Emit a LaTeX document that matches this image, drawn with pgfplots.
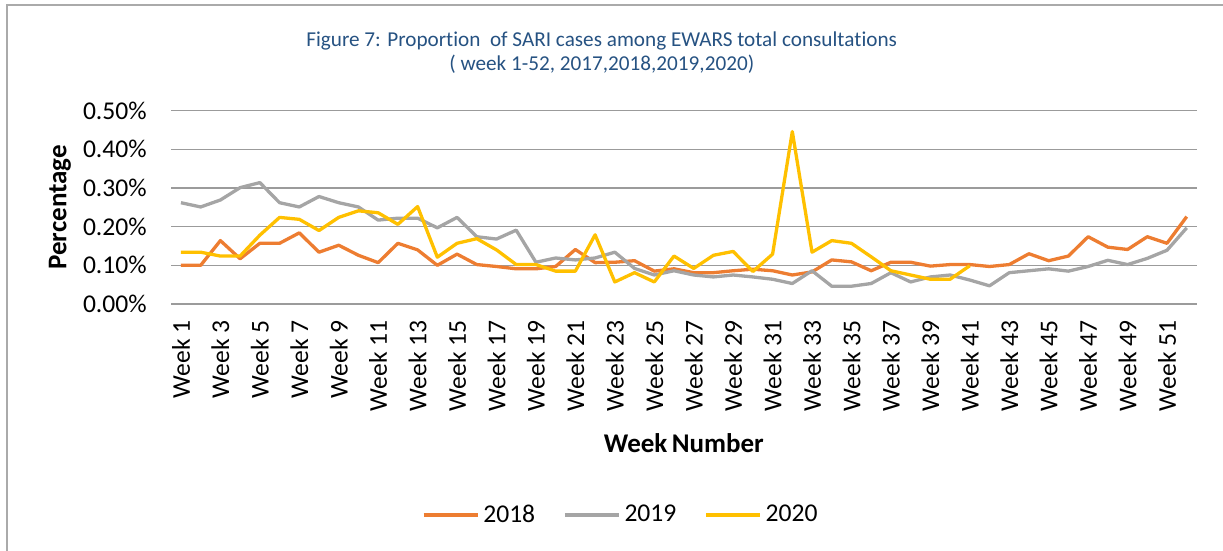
\documentclass[border=0pt]{standalone}
\usepackage{fontspec}
\setmainfont{Carlito}[Ligatures=NoCommon]
\usepackage{pgfplots}
\pgfplotsset{compat=1.18}

\definecolor{c2018}{RGB}{237,125,49}
\definecolor{c2019}{RGB}{165,165,165}
\definecolor{c2020}{RGB}{255,192,0}
\definecolor{gridgray}{RGB}{155,155,155}
\definecolor{titleblue}{RGB}{38,82,130}
\definecolor{framegray}{RGB}{170,170,170}

\begin{document}
\begin{tikzpicture}
\begin{axis}[
    scale only axis, width=512.75pt, height=96.65pt,
    xmin=0.5, xmax=52.5, ymin=0, ymax=0.5,
    clip=false,
    axis line style={draw=none},
    major tick length=0pt,
    ymajorgrids, grid style={gridgray, line width=0.7pt},
    ytick={0,0.1,0.2,0.3,0.4,0.5},
    yticklabels={0.00\%,0.10\%,0.20\%,0.30\%,0.40\%,0.50\%},
    xtick={1,3,5,7,9,11,13,15,17,19,21,23,25,27,29,31,33,35,37,39,41,43,45,47,49,51},
    xticklabels={Week 1,Week 3,Week 5,Week 7,Week 9,Week 11,Week 13,Week 15,Week 17,
      Week 19,Week 21,Week 23,Week 25,Week 27,Week 29,Week 31,Week 33,Week 35,Week 37,
      Week 39,Week 41,Week 43,Week 45,Week 47,Week 49,Week 51},
    tick label style={font=\fontsize{12.8}{14}\selectfont},
    xticklabel style={rotate=90, anchor=east, inner sep=0pt},
    xticklabel shift=8pt,
    yticklabel style={anchor=east, inner sep=0pt},
    yticklabel shift=12pt,
    xlabel={Week\,Number}, ylabel={Percentage},
    label style={font=\fontsize{13.5}{15}\selectfont\bfseries},
    xlabel style={at={(axis description cs:0.5,-0.719)}, anchor=center},
    ylabel style={at={(axis description cs:-0.1083,0.5)}, anchor=center},
    legend columns=3,
    legend style={at={(axis description cs:0.4395,-1.0916)}, anchor=center, draw=none,
      font=\fontsize{12.8}{14}\selectfont, inner sep=0pt,
      /tikz/every even column/.append style={column sep=12pt}},
    legend image code/.code={\draw[#1] (0pt,0pt) -- (27pt,0pt);},
    every axis plot/.append style={line width=1.65pt, line join=round, mark=none},
]
\addplot[c2018] coordinates {
(1,0.100) (2,0.100) (3,0.164) (4,0.117) (5,0.157) (6,0.157) (7,0.184) (8,0.134)
(9,0.152) (10,0.126) (11,0.107) (12,0.157) (13,0.140) (14,0.100) (15,0.129) (16,0.102)
(17,0.097) (18,0.091) (19,0.091) (20,0.097) (21,0.141) (22,0.107) (23,0.108) (24,0.112)
(25,0.085) (26,0.091) (27,0.081) (28,0.081) (29,0.086) (30,0.090) (31,0.086) (32,0.075)
(33,0.083) (34,0.114) (35,0.109) (36,0.086) (37,0.108) (38,0.108) (39,0.098) (40,0.102)
(41,0.102) (42,0.097) (43,0.102) (44,0.130) (45,0.112) (46,0.124) (47,0.174) (48,0.147)
(49,0.141) (50,0.174) (51,0.157) (52,0.226)};
\addlegendentry{2018}
\addplot[c2019] coordinates {
(1,0.262) (2,0.251) (3,0.269) (4,0.301) (5,0.314) (6,0.262) (7,0.251) (8,0.278)
(9,0.262) (10,0.251) (11,0.217) (12,0.222) (13,0.222) (14,0.197) (15,0.224) (16,0.174)
(17,0.168) (18,0.191) (19,0.108) (20,0.119) (21,0.114) (22,0.119) (23,0.134) (24,0.092)
(25,0.075) (26,0.086) (27,0.075) (28,0.070) (29,0.075) (30,0.070) (31,0.064) (32,0.053)
(33,0.086) (34,0.046) (35,0.046) (36,0.053) (37,0.081) (38,0.057) (39,0.070) (40,0.075)
(41,0.062) (42,0.047) (43,0.081) (44,0.086) (45,0.091) (46,0.085) (47,0.097) (48,0.113)
(49,0.102) (50,0.118) (51,0.139) (52,0.197)};
\addlegendentry{2019}
\addplot[c2020] coordinates {
(1,0.134) (2,0.134) (3,0.124) (4,0.124) (5,0.178) (6,0.224) (7,0.219) (8,0.190)
(9,0.224) (10,0.241) (11,0.236) (12,0.206) (13,0.252) (14,0.121) (15,0.157) (16,0.169)
(17,0.140) (18,0.102) (19,0.102) (20,0.085) (21,0.085) (22,0.179) (23,0.057) (24,0.081)
(25,0.057) (26,0.124) (27,0.092) (28,0.126) (29,0.136) (30,0.084) (31,0.129) (32,0.446)
(33,0.134) (34,0.164) (35,0.157) (36,0.122) (37,0.086) (38,0.075) (39,0.064) (40,0.064)
(41,0.099)};
\addlegendentry{2020}
\end{axis}
% chart title (\kern0pt keeps the "ti" letters apart, as in the original)
\node[titleblue, align=center, font=\fontsize{10.6}{12}\selectfont] at (215.3pt,125.5pt)
  {Figure 7: Propor\kern0pt tion\ \ of SARI cases among EWARS total consulta\kern0pt tions\\( week 1-52, 2017,2018,2019,2020)};
% outer frame (only top and left edges are inside the crop)
\draw[framegray, line width=1pt] (-82.05pt,-123.5pt) -- (-82.05pt,149.65pt) -- (525.95pt,149.65pt);
\pgfresetboundingbox
\path[use as bounding box] (-85.55pt,-123.5pt) rectangle (525.95pt,152pt);
\end{tikzpicture}
\end{document}
